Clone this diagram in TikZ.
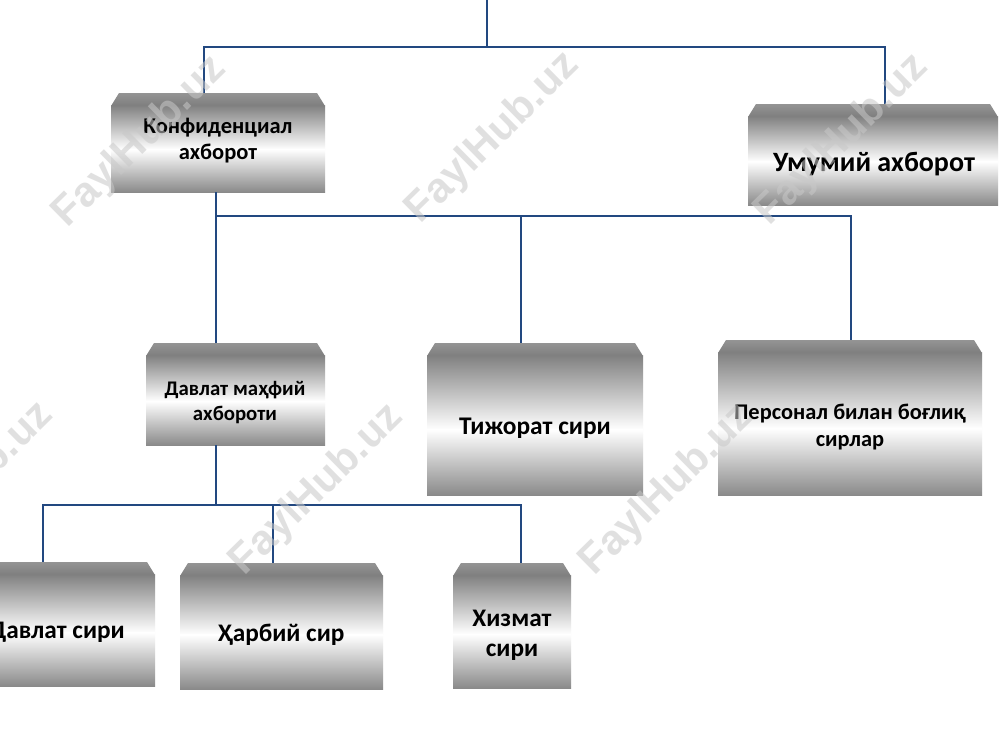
\documentclass[tikz,border=0pt]{standalone}
\usepackage{fontspec}
\setmainfont{Carlito}
\newfontfamily\wmfont{Liberation Sans}
\usetikzlibrary{calc}
\definecolor{linec}{RGB}{34,72,128}
\definecolor{gTop}{RGB}{128,128,128}
\definecolor{gUp}{RGB}{182,182,182}
\definecolor{gLow}{RGB}{170,170,170}
\definecolor{gBot}{RGB}{138,138,138}
\definecolor{bevA}{RGB}{148,148,148}
\definecolor{bevB}{RGB}{126,126,126}
\definecolor{wmc}{RGB}{200,200,200}
\tikzset{
  box/.style={fill=white, inner sep=0pt,
    path picture={
      \coordinate (pnw) at (path picture bounding box.north west);
      \coordinate (pne) at (path picture bounding box.north east);
      \coordinate (psw) at (path picture bounding box.south west);
      \coordinate (pse) at (path picture bounding box.south east);
      \coordinate (pml) at ($(pnw)!0.57!(psw)$);
      \coordinate (pmr) at ($(pne)!0.57!(pse)$);
      \shade[top color=gTop, middle color=gUp, bottom color=white] ($(pnw)+(0,12)$) rectangle (pmr);
      \shade[top color=white, middle color=gLow, bottom color=gBot] (pml) rectangle (pse);
      \fill[white] (pnw) -- ($(pnw)+(8,0)$) -- ($(pnw)+(0,13)$) -- cycle;
      \fill[white] (pne) -- ($(pne)+(-8,0)$) -- ($(pne)+(0,13)$) -- cycle;
      \shade[top color=bevA, bottom color=bevB] ($(pnw)+(8,0)$) -- ($(pne)+(-8,0)$) -- ($(pne)+(0,13)$) -- ($(pnw)+(0,13)$) -- cycle;
    }},
  txt/.style={font=\bfseries, align=center, text=black, inner sep=0pt},
  conn/.style={draw=linec, line width=2.9pt},
  wm/.style={font=\wmfont\bfseries\fontsize{42}{42}\selectfont, text=wmc, opacity=0.55, rotate=44.5}
}
\begin{document}
\begin{tikzpicture}[x=1pt,y=-1pt]
\useasboundingbox (0,0) rectangle (1000,750);
\clip (0,0) rectangle (1000,750);
\fill[white] (0,0) rectangle (1000,750);
% boxes
\node[box, minimum width=214pt, minimum height=99pt]  (k)  at (218,142.5) {};
\node[box, minimum width=250pt, minimum height=101pt] (u)  at (873,154.5) {};
\node[box, minimum width=179pt, minimum height=102pt] (d)  at (235.5,394) {};
\node[box, minimum width=216pt, minimum height=152pt] (t)  at (535,419) {};
\node[box, minimum width=264pt, minimum height=155pt] (p)  at (850,417.5) {};
\node[box, minimum width=196pt, minimum height=124pt] (s6) at (57,624) {};
\node[box, minimum width=203pt, minimum height=126pt] (s7) at (281.5,626) {};
\node[box, minimum width=118pt, minimum height=125pt] (s8) at (512,625.5) {};
% texts
\node[txt, font=\bfseries\fontsize{22.5}{26}\selectfont] (kt) at (218,141) {Конфиденциал\\ахборот};
\node[txt, font=\bfseries\fontsize{28}{30}\selectfont] (ut) at (874,164) {Умумий ахборот};
\node[txt, font=\bfseries\fontsize{20.8}{25}\selectfont] (dt) at (235,403) {Давлат маҳфий\\ахбороти};
\node[txt, font=\bfseries\fontsize{25.4}{28}\selectfont] (tt) at (535,428) {Тижорат сири};
\node[txt, font=\bfseries\fontsize{22.4}{27}\selectfont] (pt) at (850,427) {Персонал билан боғлиқ\\сирлар};
\node[txt, font=\bfseries\fontsize{25.3}{28}\selectfont] (s6t) at (57,632) {Давлат сири};
\node[txt, font=\bfseries\fontsize{25.3}{28}\selectfont] (s7t) at (281,635) {Ҳарбий сир};
\node[txt, font=\bfseries\fontsize{25.3}{30}\selectfont] (s8t) at (512,635) {Хизмат\\сири};
% connectors
\coordinate (top) at (487,0);
\coordinate (j1) at (487,47);
\draw[conn] (top) -- (j1);
\draw[conn] ([xshift=-14pt]k.north) |- (j1) -| ([xshift=12pt]u.north);
\coordinate (j2) at (216,216);
\draw[conn] (k.south -| j2) -- (j2 |- d.north);
\draw[conn] (j2) -| ([xshift=-14pt]t.north);
\draw[conn] (j2) -| ([xshift=1pt]p.north);
\coordinate (j3) at (216,505);
\draw[conn] (d.south -| j3) -- (j3);
\draw[conn] (j3) -| ([xshift=-14pt]s6.north);
\draw[conn] (j3) -| ([xshift=-8.5pt]s7.north);
\draw[conn] (j3) -| ([xshift=9pt]s8.north);
% watermarks
\node[wm] (w1) at (140,142) {FaylHub.uz};
\node[wm] (w2) at (493,138) {FaylHub.uz};
\node[wm] (w3) at (842,140) {FaylHub.uz};
\node[wm] (w4) at (-33,488) {FaylHub.uz};
\node[wm] (w5) at (317,490) {FaylHub.uz};
\node[wm] (w6) at (667,490) {FaylHub.uz};
\end{tikzpicture}
\end{document}
